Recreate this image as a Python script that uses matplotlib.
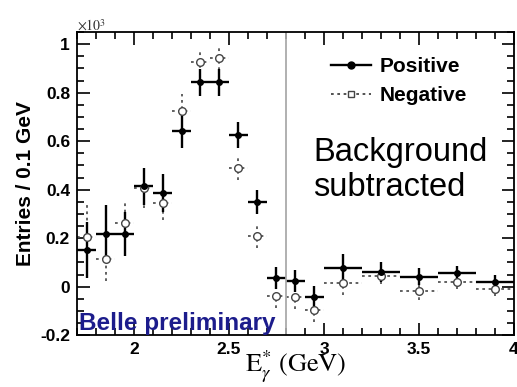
import matplotlib.pyplot as plt
from matplotlib.lines import Line2D
from matplotlib.ticker import MultipleLocator

# E*_gamma bin centres (GeV) and half widths
e_gamma = [1.75, 1.85, 1.95, 2.05, 2.15, 2.25, 2.35, 2.45, 2.55, 2.65, 2.75, 2.85, 2.95,
           3.1, 3.3, 3.5, 3.7, 3.9]
half_width = [0.05, 0.05, 0.05, 0.05, 0.05, 0.05, 0.05, 0.05, 0.05, 0.05, 0.05, 0.05, 0.05,
              0.1, 0.1, 0.1, 0.1, 0.1]

# entries / 0.1 GeV, in units of 10^3
positive = [0.15, 0.216, 0.216, 0.414, 0.386, 0.641, 0.843, 0.843, 0.625, 0.35, 0.035, 0.023, -0.043,
            0.076, 0.06, 0.04, 0.055, 0.02]
positive_err = [0.115, 0.12, 0.09, 0.076, 0.077, 0.07, 0.055, 0.055, 0.055, 0.05, 0.045, 0.045, 0.045,
                0.06, 0.04, 0.035, 0.03, 0.03]
negative = [0.204, 0.113, 0.262, 0.406, 0.344, 0.724, 0.926, 0.942, 0.489, 0.208, -0.04, -0.043, -0.097,
            0.014, 0.043, -0.019, 0.019, -0.01]
negative_err = [0.14, 0.09, 0.085, 0.08, 0.07, 0.07, 0.05, 0.05, 0.05, 0.05, 0.05, 0.05, 0.05,
                0.05, 0.03, 0.035, 0.03, 0.03]

cut_value = 2.8

plt.rcParams['font.family'] = ['Liberation Sans', 'DejaVu Sans']
plt.rcParams['mathtext.fontset'] = 'stix'

fig = plt.figure(figsize=(5.17, 3.87), dpi=100)
ax = fig.add_axes([0.149, 0.134, 0.845, 0.783])

# negative first so positive sits on top
eb_n = ax.errorbar(e_gamma, negative, yerr=negative_err, xerr=half_width, fmt='o', ms=5.5,
                   mfc='white', mec='#444444', mew=1.0, ecolor='#555555', elinewidth=1.3, capsize=0)
for c in eb_n[2]:
    c.set_linestyle((0, (1.5, 2.0)))

ax.errorbar(e_gamma, positive, yerr=positive_err, xerr=half_width, fmt='o', ms=4,
            color='black', ecolor='black', elinewidth=1.7, capsize=0)

ax.axvline(cut_value, color='#aaaaaa', lw=1.3)

ax.set_xlim(1.7, 4.0)
ax.set_ylim(-0.2, 1.05)
ax.xaxis.set_major_locator(MultipleLocator(0.5))
ax.xaxis.set_minor_locator(MultipleLocator(0.1))
ax.yaxis.set_major_locator(MultipleLocator(0.2))
ax.yaxis.set_minor_locator(MultipleLocator(0.05))
ax.tick_params(which='both', direction='in', top=True, right=True, width=1.2)
ax.tick_params(which='major', length=9, labelsize=12.5, pad=5)
ax.tick_params(which='minor', length=5)
ax.set_xticks([2, 2.5, 3, 3.5, 4])
ax.set_xticklabels(['2', '2.5', '3', '3.5', '4'])
ax.set_yticks([-0.2, 0, 0.2, 0.4, 0.6, 0.8, 1.0])
ax.set_yticklabels(['-0.2', '0', '0.2', '0.4', '0.6', '0.8', '1'])
for lab in ax.get_xticklabels() + ax.get_yticklabels():
    lab.set_fontweight('bold')
for s in ax.spines.values():
    s.set_linewidth(1.3)

ax.set_ylabel('Entries / 0.1 GeV', fontsize=15, fontweight='bold', labelpad=4)
ax.set_xlabel(r'$\mathrm{E}^{*}_{\gamma}\ \mathrm{(GeV)}$', fontsize=19, labelpad=-6)
ax.text(0.0, 1.005, r'$\times10^{3}$', transform=ax.transAxes, fontsize=10, color='#333333')

handles = [Line2D([], [], color='black', marker='o', ms=5, lw=1.7),
           Line2D([], [], color='#444444', marker='s', ms=5, mfc='white', lw=1.3,
                  linestyle=(0, (1.5, 2.0)))]
ax.legend(handles, ['Positive', 'Negative'], loc='upper right', bbox_to_anchor=(0.935, 0.98),
          frameon=False, prop={'weight': 'bold', 'size': 15}, handlelength=1.9,
          handletextpad=0.4, labelspacing=0.5)

ax.text(0.54, 0.545, 'Background\nsubtracted', transform=ax.transAxes, fontsize=23.5,
        linespacing=1.2, va='center', ha='left')
ax.text(0.005, 0.0, 'Belle preliminary', transform=ax.transAxes, fontsize=17.5,
        fontweight='bold', color='#1c1c8c', va='bottom', ha='left')

fig.savefig('out.png', dpi=100)
